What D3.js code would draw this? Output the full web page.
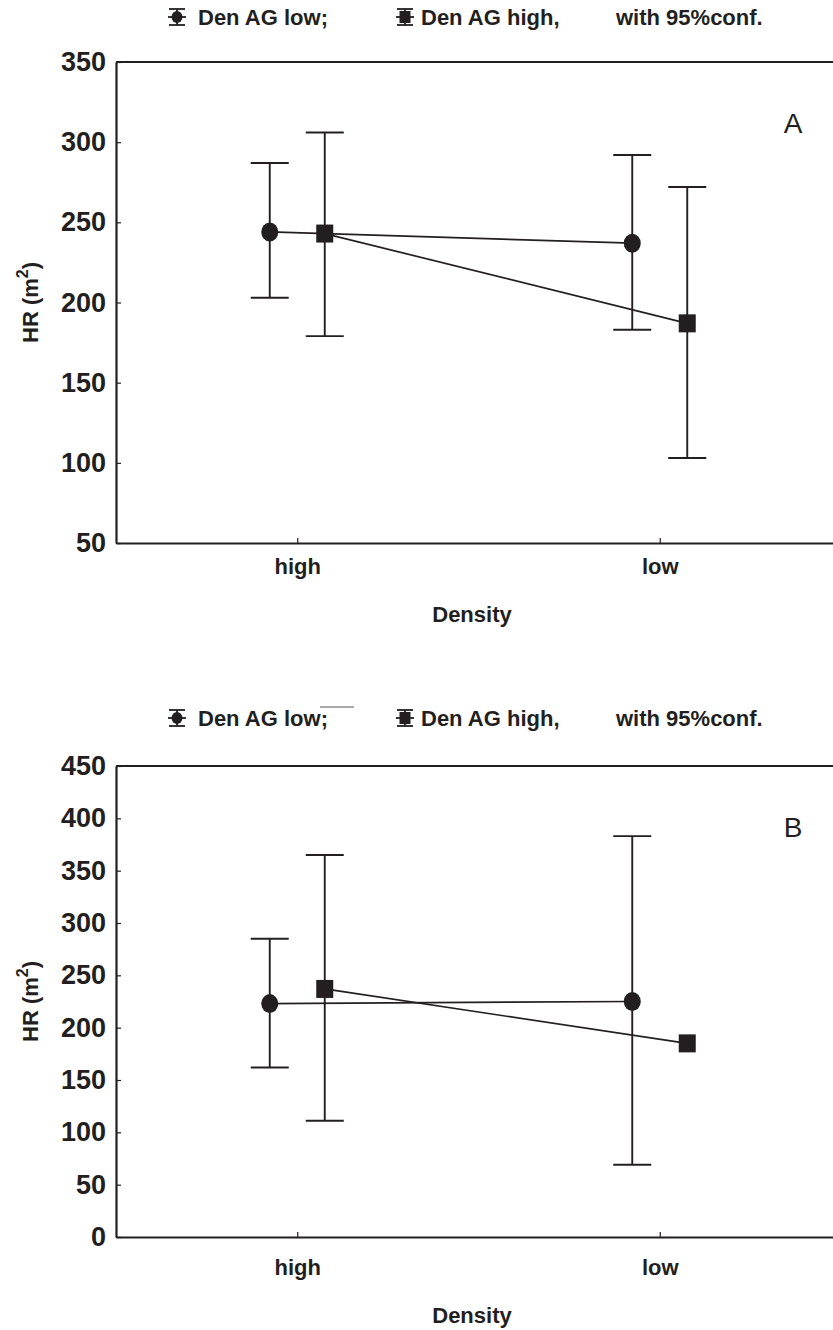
<!DOCTYPE html>
<html>
<head>
<meta charset="utf-8">
<script src="https://d3js.org/d3.v7.min.js"></script>
<style>
  body { margin: 0; background: #fff; }
  text { font-family: "Liberation Sans", Arial, sans-serif; fill: #231f20; }
</style>
</head>
<body>
<div id="svg-container"></div>
<script>
// chart data
var categories = ["high", "low"];
var seriesNames = ["Den AG low", "Den AG high"];

// panel A: means and 95% confidence limits
var meanA  = [[244, 237], [243, 187]];
var lowerA = [[203, 183], [179, 103]];
var upperA = [[287, 292], [306, 272]];
var ticksA = [50, 100, 150, 200, 250, 300, 350];

// panel B
var meanB  = [[223, 225], [237, 185]];
var lowerB = [[162, 69], [111, 185]];
var upperB = [[285, 383], [365, 185]];
var ticksB = [0, 50, 100, 150, 200, 250, 300, 350, 400, 450];

var ink = "#231f20";

var svg = d3.select("#svg-container")
            .append("svg")
            .attr("width", 833)
            .attr("height", 1330);

svg.append("rect")
    .attr("width", "100%")
    .attr("height", "100%")
    .style("fill", "white");

// draw a legend symbol: error bar with marker
function legendSymbol(g, cx, cy, shape) {
  var sw = 1.8;
  g.append("line").attr("x1", cx - 8).attr("x2", cx + 8).attr("y1", cy - 8).attr("y2", cy - 8)
    .attr("stroke", ink).attr("stroke-width", sw);
  g.append("line").attr("x1", cx - 8).attr("x2", cx + 8).attr("y1", cy + 8).attr("y2", cy + 8)
    .attr("stroke", ink).attr("stroke-width", sw);
  g.append("line").attr("x1", cx).attr("x2", cx).attr("y1", cy - 8).attr("y2", cy + 8)
    .attr("stroke", ink).attr("stroke-width", sw);
  g.append("line").attr("x1", cx - 9).attr("x2", cx + 9).attr("y1", cy).attr("y2", cy)
    .attr("stroke", ink).attr("stroke-width", sw);
  if (shape === "circle") {
    g.append("ellipse").attr("cx", cx).attr("cy", cy).attr("rx", 5.5).attr("ry", 6).attr("fill", ink);
  } else {
    g.append("rect").attr("x", cx - 5.5).attr("y", cy - 6).attr("width", 11).attr("height", 12).attr("fill", ink);
  }
}

function drawPanel(top, bottom, domain, ticks, mean, lower, upper, letter, legendY, labelGap) {
  var left = 116, right = 833;

  var xScale = d3.scalePoint()
                  .domain(categories)
                  .range([left, 841])
                  .padding(0.5);

  var offset = d3.scalePoint()
                  .domain(seriesNames)
                  .range([-27.5, 27.5]);

  var yScale = d3.scaleLinear()
                  .domain(domain)
                  .range([bottom, top]);

  var g = svg.append("g");

  // legend above the frame
  legendSymbol(g, 177, legendY, "circle");
  legendSymbol(g, 405, legendY, "square");
  var legendText = [[198, "Den AG low;"], [421, "Den AG high,"], [616, "with 95%conf."]];
  g.selectAll(".legend-text")
    .data(legendText)
    .enter()
      .append("text")
      .attr("x", function(d) { return d[0]; })
      .attr("y", legendY + 8)
      .attr("font-size", 22)
      .attr("font-weight", "bold")
      .text(function(d) { return d[1]; });

  // y axis with inward ticks
  var yAxis = d3.axisLeft(yScale)
                .tickValues(ticks)
                .tickSizeInner(-5)
                .tickSizeOuter(0)
                .tickPadding(10);

  var yAxisGroup = g.append("g")
                    .attr("transform", "translate(" + left + ",0)")
                    .call(yAxis);
  yAxisGroup.selectAll("text")
    .attr("font-size", 27)
    .attr("font-weight", "bold")
    .attr("font-family", "Liberation Sans, Arial, sans-serif")
    .attr("fill", ink);

  // x axis with inward ticks
  var xAxis = d3.axisBottom(xScale)
                .tickSizeInner(-5)
                .tickSizeOuter(0)
                .tickPadding(labelGap);

  var xAxisGroup = g.append("g")
                    .attr("transform", "translate(0," + bottom + ")")
                    .call(xAxis);
  xAxisGroup.selectAll("text")
    .attr("font-size", 22)
    .attr("font-weight", "bold")
    .attr("font-family", "Liberation Sans, Arial, sans-serif")
    .attr("fill", ink);

  g.selectAll(".domain").attr("stroke", ink).attr("stroke-width", 2.2);
  g.selectAll(".tick line").attr("stroke", ink).attr("stroke-width", 1.2);

  // top border of the frame
  g.append("line")
    .attr("x1", left).attr("x2", right)
    .attr("y1", top).attr("y2", top)
    .attr("stroke", ink).attr("stroke-width", 2.2);

  // panel letter
  g.append("text")
    .attr("x", 793).attr("y", top + 71)
    .attr("text-anchor", "middle")
    .attr("font-size", 28)
    .text(letter);

  // axis titles
  var yMid = (top + bottom) / 2;
  var yTitle = g.append("text")
                .attr("transform", "translate(38," + yMid + ") rotate(-90)")
                .attr("text-anchor", "middle")
                .attr("font-size", 22)
                .attr("font-weight", "bold");
  yTitle.append("tspan").text("HR (m");
  yTitle.append("tspan").attr("dy", -10).attr("font-size", 16).text("2");
  yTitle.append("tspan").attr("dy", 10).text(")");

  g.append("text")
    .attr("x", 472).attr("y", bottom + labelGap + 64)
    .attr("text-anchor", "middle")
    .attr("font-size", 22)
    .attr("font-weight", "bold")
    .text("Density");

  // build point records per series
  seriesNames.forEach(function(s, si) {
    var pts = categories.map(function(c, ci) {
      return { cat: c, m: mean[si][ci], lo: lower[si][ci], hi: upper[si][ci] };
    });
    var px = function(d) { return xScale(d.cat) + offset(s); };

    // connecting line
    g.append("path")
      .datum(pts)
      .attr("fill", "none")
      .attr("stroke", ink)
      .attr("stroke-width", 1.7)
      .attr("d", d3.line().x(px).y(function(d) { return yScale(d.m); }));

    var bars = g.selectAll(".bar" + si)
                .data(pts)
                .enter()
                  .append("g");

    bars.append("line")
      .attr("x1", px).attr("x2", px)
      .attr("y1", function(d) { return yScale(d.lo); })
      .attr("y2", function(d) { return yScale(d.hi); })
      .attr("stroke", ink).attr("stroke-width", 1.9);

    ["lo", "hi"].forEach(function(k) {
      bars.filter(function(d) { return d.lo !== d.hi; })
        .append("line")
        .attr("x1", function(d) { return px(d) - 19; })
        .attr("x2", function(d) { return px(d) + 19; })
        .attr("y1", function(d) { return yScale(d[k]); })
        .attr("y2", function(d) { return yScale(d[k]); })
        .attr("stroke", ink).attr("stroke-width", 1.9);
    });

    if (si === 0) {
      bars.append("ellipse")
        .attr("cx", px)
        .attr("cy", function(d) { return yScale(d.m); })
        .attr("rx", 8.5).attr("ry", 9.5)
        .attr("fill", ink);
    } else {
      bars.append("rect")
        .attr("x", function(d) { return px(d) - 8.5; })
        .attr("y", function(d) { return yScale(d.m) - 9; })
        .attr("width", 17).attr("height", 18)
        .attr("fill", ink);
    }
  });

  return g;
}

drawPanel(62, 543, [50, 350], ticksA, meanA, lowerA, upperA, "A", 17, 15);
var panelB = drawPanel(766, 1237, [0, 450], ticksB, meanB, lowerB, upperB, "B", 718, 22);

// stray rule above the second legend
panelB.append("line")
  .attr("x1", 320).attr("x2", 354)
  .attr("y1", 707).attr("y2", 707)
  .attr("stroke", "#555").attr("stroke-width", 1);
</script>
</body>
</html>
